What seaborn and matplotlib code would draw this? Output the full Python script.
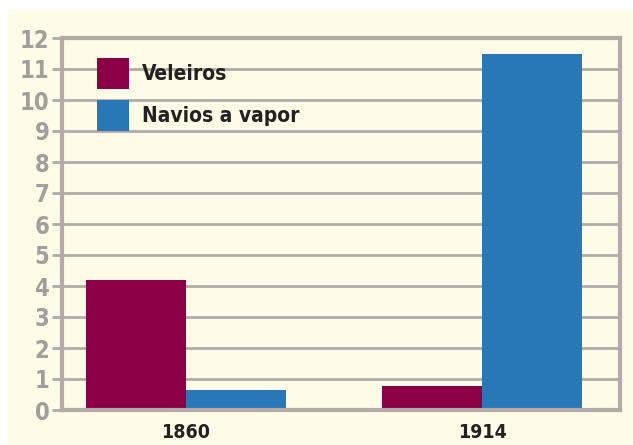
import pandas as pd
import matplotlib
matplotlib.use("Agg")
import matplotlib.pyplot as plt
import seaborn as sns
from matplotlib.patches import Rectangle

years = ["1860", "1914"]
series = ["Veleiros", "Navios a vapor"]
veleiros = [4.2, 0.78]
navios = [0.65, 11.5]
yticks = list(range(0, 13))

colors = {"Veleiros": "#8C0048", "Navios a vapor": "#2878B8"}
BG = "#FEFBE6"
GRID = "#B5AAA7"

sns.set_theme(style="white")
plt.rcParams["font.family"] = ["DejaVu Sans"]
plt.rcParams["font.stretch"] = "condensed"

df = pd.DataFrame({
    "ano": years * 2,
    "tipo": [series[0]] * len(years) + [series[1]] * len(years),
    "valor": veleiros + navios,
})

fig = plt.figure(figsize=(6.33, 4.45), dpi=100, facecolor="white")
# fundo creme do quadro (sem a margem branca em cima/esquerda)
fig.add_artist(Rectangle((8 / 633, 0), 1, 1 - 10 / 445, transform=fig.transFigure,
                         facecolor=BG, edgecolor="none", zorder=-10))
ax = fig.add_axes([62 / 633, 35 / 445, 558 / 633, 372 / 445])
ax.set_facecolor(BG)

sns.barplot(data=df, x="ano", y="valor", hue="tipo", palette=colors,
            width=0.676, saturation=1, ax=ax, zorder=3, legend=True,
            linewidth=0)

ax.set_ylim(0, 12)
ax.set_xlim(-0.419, 1.466)
ax.set_yticks(yticks)
ax.yaxis.grid(True, color=GRID, linewidth=2, zorder=0)
ax.set_axisbelow(True)
for s in ["left", "right", "top", "bottom"]:
    ax.spines[s].set_color(GRID)
    ax.spines[s].set_linewidth(3)
    ax.spines[s].set_zorder(4)

ax.tick_params(axis="y", which="major", direction="out", length=7, width=2,
               color=GRID, labelcolor="#A59C9C", labelsize=17, pad=2, left=True)
ax.tick_params(axis="x", length=0, labelcolor="#222222", labelsize=14, pad=9)
for lab in ax.get_yticklabels():
    lab.set_fontweight("bold")
for lab in ax.get_xticklabels():
    lab.set_fontweight("bold")
ax.set_xlabel("")
ax.set_ylabel("")

leg = ax.legend(loc="upper left", bbox_to_anchor=(0.063, 0.946), frameon=False,
                handlelength=1.55, handleheight=1.9, handletextpad=0.62,
                labelspacing=0.55, fontsize=15, borderaxespad=0, borderpad=0)
for t in leg.get_texts():
    t.set_color("#222222")
    t.set_fontweight("bold")

fig.savefig("out.png", dpi=100, facecolor="white")
